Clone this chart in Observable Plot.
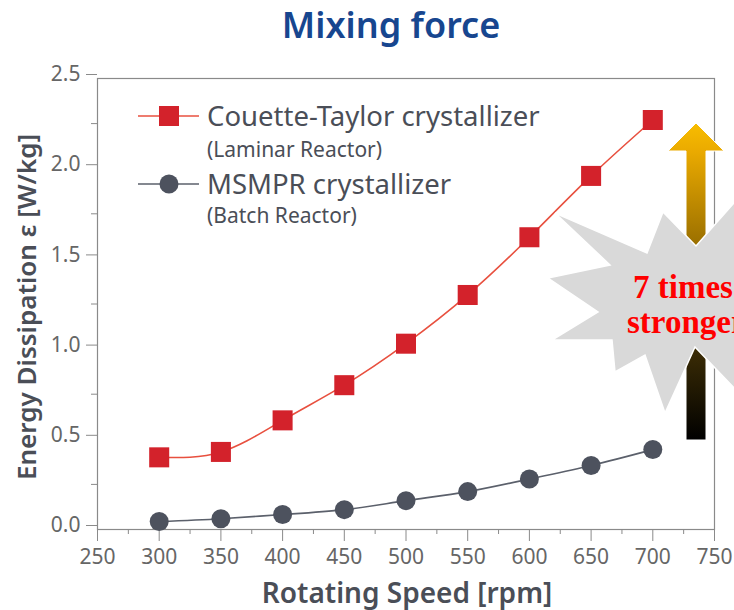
<!DOCTYPE html>
<html><head><meta charset="utf-8">
<script src="https://cdn.jsdelivr.net/npm/d3@7"></script>
<script src="https://cdn.jsdelivr.net/npm/@observablehq/plot@0.6"></script>
<style>
body{margin:0;width:734px;height:610px;overflow:hidden;background:#fff;font-family:"Noto Sans",sans-serif;}
#title{height:62px;overflow:hidden;box-sizing:border-box;padding-left:48px;text-align:center;font-size:36px;font-weight:600;line-height:50px;color:#17468f;}
#chart svg{display:block;overflow:visible;}
</style></head><body>
<div id="title">Mixing force</div>
<div id="chart"></div>
<script>
const speeds = [300,350,400,450,500,550,600,650,700];
const couetteTaylor = [0.40,0.43,0.605,0.80,1.03,1.30,1.62,1.96,2.27];
const msmpr = [0.044,0.06,0.083,0.11,0.16,0.21,0.28,0.355,0.443];
const seriesNames = ["Couette-Taylor crystallizer","MSMPR crystallizer"];
const seriesNotes = ["(Laminar Reactor)","(Batch Reactor)"];
const xTicks = [250,300,350,400,450,500,550,600,650,700,750];
const xMinorTicks = [275,325,375,425,475,525,575,625,675,725];
const yTicks = [0,0.5,1,1.5,2,2.5];
const yMinorTicks = [0.25,0.75,1.25,1.75,2.25];
const annotationLines = ["7 times","stronger"];
const xLabel = "Rotating Speed [rpm]";
const yLabel = "Energy Dissipation ε [W/kg]";

const red = "#d3222b", redLine = "#e8503f", gray = "#4d525e", grayLine = "#5b606b";
const ct = speeds.map((s,i)=>({x:s,y:couetteTaylor[i]}));
const ms = speeds.map((s,i)=>({x:s,y:msmpr[i]}));

const svg = Plot.plot({
  width:734, height:548,
  marginTop:16, marginBottom:81, marginLeft:97, marginRight:20,
  style:{fontFamily:"Noto Sans, sans-serif", color:"#666666", background:"transparent"},
  x:{domain:[250,750]},
  y:{domain:[0,2.5]},
  marks:[
    Plot.frame({stroke:"#8a8a8a", strokeWidth:1.2}),
    Plot.axisX({ticks:xTicks, tickSize:12, tickPadding:8, fontSize:21, label:null, stroke:"#8a8a8a", tickFormat:d=>String(d)}),
    Plot.axisX({ticks:xMinorTicks, tickSize:5, label:null, stroke:"#8a8a8a", tickFormat:()=>""}),
    Plot.axisY({ticks:yTicks, tickSize:11, tickPadding:6, fontSize:21, label:null, stroke:"#8a8a8a", dy:-4, tickFormat:d3.format(".1f")}),
    Plot.axisY({ticks:yMinorTicks, tickSize:6, label:null, stroke:"#8a8a8a", tickFormat:()=>""}),
    Plot.line(ms, {x:"x", y:"y", stroke:grayLine, strokeWidth:1.6, curve:"natural"}),
    Plot.dot(ms, {x:"x", y:"y", r:9.5, fill:gray, stroke:"none"}),
    Plot.line(ct, {x:"x", y:"y", stroke:redLine, strokeWidth:1.6, curve:"natural"}),
    Plot.dot(ct, {x:"x", y:"y", symbol:"square", r:11.3, fill:red, stroke:"none"})
  ]
});
document.getElementById("chart").appendChild(svg);
const S = d3.select(svg);
const oy = 62; // svg top offset in page coords

// axis titles
S.append("text").attr("x",407).attr("y",603-oy).attr("text-anchor","middle")
 .attr("font-size",28).attr("font-weight",600).attr("fill","#4a4e57").text(xLabel);
S.append("text").attr("transform",`translate(29,${307-oy}) rotate(-90)`).attr("text-anchor","middle")
 .attr("dominant-baseline","middle").attr("font-size",26).attr("font-weight",600).attr("fill","#4a4e57").text(yLabel);

// legend
const lg = S.append("g").attr("text-anchor","start");
const legendRows = [{y:116, color:redLine, fill:red, sym:"square", name:seriesNames[0], note:seriesNotes[0], base:126, nbase:157},
                    {y:184, color:grayLine, fill:gray, sym:"circle", name:seriesNames[1], note:seriesNotes[1], base:194, nbase:223}];
legendRows.forEach(r=>{
  lg.append("line").attr("x1",138).attr("x2",199).attr("y1",r.y-oy).attr("y2",r.y-oy).attr("stroke",r.color).attr("stroke-width",1.6);
  if(r.sym==="square") lg.append("rect").attr("x",159).attr("y",r.y-oy-10).attr("width",20).attr("height",20).attr("fill",r.fill);
  else lg.append("circle").attr("cx",169).attr("cy",r.y-oy).attr("r",9.5).attr("fill",r.fill);
  lg.append("text").attr("x",207).attr("y",r.base-oy).attr("font-size",27.5).attr("fill","#4a4e57").text(r.name);
  lg.append("text").attr("x",207).attr("y",r.nbase-oy).attr("font-size",21).attr("fill","#4a4e57").text(r.note);
});

// arrow with gradient
const defs = S.append("defs");
const gr = defs.append("linearGradient").attr("id","ag").attr("gradientUnits","userSpaceOnUse")
  .attr("x1",0).attr("x2",0).attr("y1",123-oy).attr("y2",440-oy);
[[0,"#f8bd00"],[0.09,"#eaaa00"],[0.385,"#9a6f00"],[0.716,"#3b2c05"],[1,"#000000"]].forEach(([o,c])=>gr.append("stop").attr("offset",o).attr("stop-color",c));
const arrowPts = [[696,123],[724,151],[706,151],[706,440],[686,440],[686,151],[668,151]];
S.append("polygon").attr("points",arrowPts.map(p=>[p[0],p[1]-oy].join(",")).join(" ")).attr("fill","url(#ag)").attr("stroke","#fff").attr("stroke-width",1);

// starburst
const starPts = [[555,213],[647,253],[663,212],[696,246],[740,196],[790,300],[738,392],[695,347],[665,413],[645,355],[615,372],[612,340],[552,340],[598,312],[548,278],[610,265]];
S.append("polygon").attr("points",starPts.map(p=>[p[0],p[1]-oy].join(",")).join(" ")).attr("fill","#d9d9d9").attr("stroke","#fff").attr("stroke-width",1.5);
const st = S.append("g").attr("text-anchor","start").attr("font-family","Liberation Serif, serif").attr("font-weight","bold").attr("font-size",33).attr("fill","#ff0000");
st.append("text").attr("x",633).attr("y",298-oy).text(annotationLines[0]);
st.append("text").attr("x",627).attr("y",333-oy).text(annotationLines[1]);
</script>
</body></html>
